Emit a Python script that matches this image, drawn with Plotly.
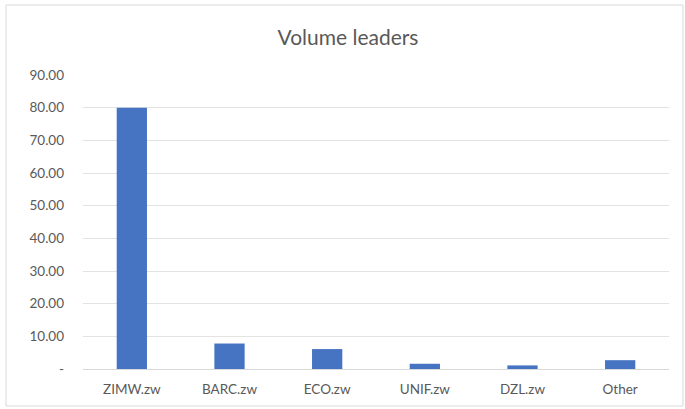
import plotly.graph_objects as go

categories = ["ZIMW.zw", "BARC.zw", "ECO.zw", "UNIF.zw", "DZL.zw", "Other"]
volumes = [80.0, 7.8, 6.1, 1.6, 1.1, 2.7]
tick_values = [0, 10, 20, 30, 40, 50, 60, 70, 80, 90]
tick_labels = ["-", "10.00", "20.00", "30.00", "40.00", "50.00", "60.00", "70.00", "80.00", "90.00"]

FONT = "Lato, Carlito, Calibri, sans-serif"

fig = go.Figure(go.Bar(
    x=categories, y=volumes,
    marker=dict(color="#4674C2", line=dict(width=0)),
    width=0.31,
))

L, R, T, B = 83, 16, 75, 40
W, H = 685, 409
pw, ph = W - L - R, H - T - B

def px_x(p):
    return (p - L) / pw

def px_y(p):
    return (H - B - p) / ph

fig.update_layout(
    width=W, height=H,
    margin=dict(l=L, r=R, t=T, b=B),
    paper_bgcolor="white", plot_bgcolor="white",
    showlegend=False,
    font=dict(family=FONT, color="#595959", size=13),
    title=dict(text="Volume leaders", x=0.508, xanchor="center", y=0.908, yanchor="middle",
               font=dict(family=FONT, size=21, color="#595959")),
    xaxis=dict(showgrid=False, showline=True, linecolor="#d9d9d9", linewidth=1,
               ticks="", tickfont=dict(size=13.5, color="#595959"), ticklabelstandoff=8),
    yaxis=dict(range=[0, 90], tickvals=tick_values, ticktext=tick_labels,
               showgrid=True, gridcolor="#e3e3e3", gridwidth=1, zeroline=False,
               showline=False, ticks="", tickfont=dict(size=13.5, color="#595959"),
               ticklabelstandoff=18),
    shapes=[dict(type="rect", xref="paper", yref="paper",
                 x0=px_x(6), x1=px_x(683), y0=px_y(406), y1=px_y(5),
                 line=dict(color="#d9d9d9", width=1), fillcolor="rgba(0,0,0,0)", layer="below")],
)

fig.write_html("out.html", config={"displayModeBar": False},
               post_script="document.body.style.margin='0';document.body.style.overflow='hidden';")
